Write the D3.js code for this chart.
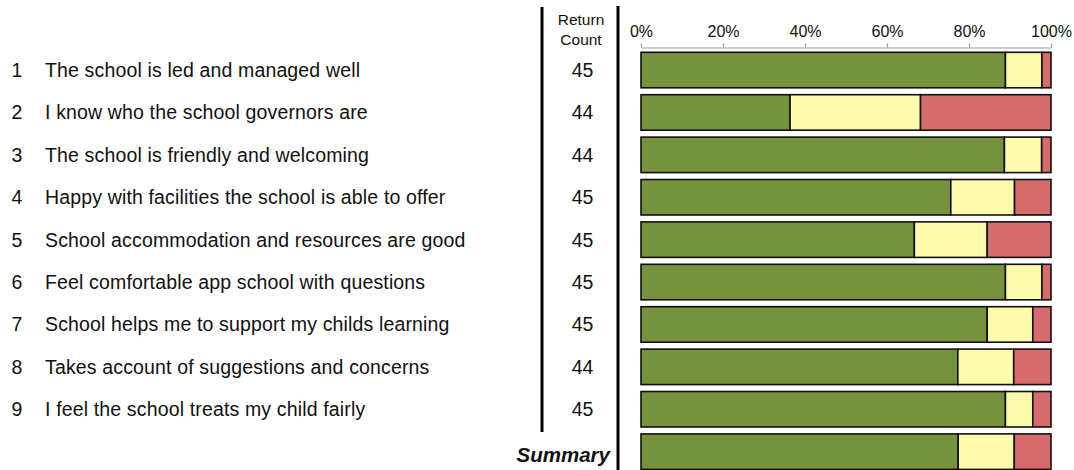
<!DOCTYPE html>
<html>
<head>
<meta charset="utf-8">
<script src="https://cdn.jsdelivr.net/npm/d3@7"></script>
<style>
  html, body { margin: 0; padding: 0; background: #fff; }
  svg { display: block; font-family: "Liberation Sans", Arial, sans-serif; }
</style>
</head>
<body>
<svg id="chart" width="1074" height="470"></svg>
<script>
const questions = [
  "The school is led and managed well",
  "I know who the school governors are",
  "The school is friendly and welcoming",
  "Happy with facilities the school is able to offer",
  "School accommodation and resources are good",
  "Feel comfortable app school with questions",
  "School helps me to support my childs learning",
  "Takes account of suggestions and concerns",
  "I feel the school treats my child fairly",
  "Summary"
];
const returnCounts = [45, 44, 44, 45, 45, 45, 45, 44, 45, null];
const agree    = [40, 16, 39, 34, 30, 40, 38, 34, 40, 311];
const neutral  = [4, 14, 4, 7, 8, 4, 5, 6, 3, 55];
const disagree = [1, 14, 1, 4, 7, 1, 2, 4, 2, 36];
const tickValues = [0, 0.2, 0.4, 0.6, 0.8, 1.0];
const seriesKeys = ["agree", "neutral", "disagree"];
const seriesColors = ["#76923C", "#FBFBAB", "#D76B6B"];

const rows = questions.map((q, i) => {
  const total = agree[i] + neutral[i] + disagree[i];
  return { q, i, count: returnCounts[i],
    agree: agree[i] / total, neutral: neutral[i] / total, disagree: disagree[i] / total };
});

const svg = d3.select("#chart");
const x = d3.scaleLinear().domain([0, 1]).range([641, 1051]);
const y = d3.scaleBand().domain(rows.map(d => d.i)).range([48.85, 472.85])
  .paddingInner(0.163).paddingOuter(0.0815);

// Axis on top
const axis = d3.axisTop(x).tickValues(tickValues).tickFormat(d3.format(".0%")).tickSize(4).tickSizeOuter(0);
const gAxis = svg.append("g").attr("transform", "translate(0,47.5)").call(axis);
gAxis.select(".domain").attr("stroke", "#999").attr("stroke-width", 1.2);
gAxis.selectAll(".tick line").attr("stroke", "#999").attr("stroke-width", 1.2);
gAxis.selectAll(".tick text").attr("font-size", 16).attr("fill", "#111")
  .attr("font-family", "Liberation Sans, Arial, sans-serif").attr("dy", "-4");

// Stacked bars
const stack = d3.stack().keys(seriesKeys);
const stacked = stack(rows);
svg.append("g").selectAll("g").data(stacked).join("g")
  .attr("fill", (d, k) => seriesColors[k])
  .selectAll("rect").data(d => d).join("rect")
  .attr("x", d => x(d[0]))
  .attr("width", d => x(d[1]) - x(d[0]))
  .attr("y", (d) => y(d.data.i))
  .attr("height", y.bandwidth())
  .attr("stroke", "#111")
  .attr("stroke-width", 1.6);

// Left labels
const gl = svg.append("g").attr("font-size", 19.5).attr("fill", "#111");
rows.filter(d => d.count !== null).forEach(d => {
  const cy = y(d.i) + y.bandwidth() / 2;
  gl.append("text").attr("x", 17).attr("y", cy).attr("dy", "0.36em").attr("text-anchor", "middle").text(d.i + 1);
  gl.append("text").attr("x", 45).attr("y", cy).attr("dy", "0.36em").attr("letter-spacing", 0.15).text(d.q);
  gl.append("text").attr("x", 582.5).attr("y", cy).attr("dy", "0.36em").attr("text-anchor", "middle").text(d.count);
});
const sum = rows[rows.length - 1];
svg.append("text").attr("x", 610).attr("y", y(sum.i) + y.bandwidth() / 2 + 3).attr("dy", "0.36em")
  .attr("text-anchor", "end").attr("font-size", 20.5).attr("font-weight", "bold").attr("font-style", "italic")
  .attr("fill", "#111").text(sum.q);

// Header
svg.append("text").attr("x", 581).attr("y", 25).attr("text-anchor", "middle").attr("font-size", 15.5).attr("fill", "#111").text("Return");
svg.append("text").attr("x", 581).attr("y", 45).attr("text-anchor", "middle").attr("font-size", 15.5).attr("fill", "#111").text("Count");

// Vertical rules
svg.append("line").attr("x1", 542).attr("x2", 542).attr("y1", 7).attr("y2", 432).attr("stroke", "#000").attr("stroke-width", 3);
svg.append("line").attr("x1", 618).attr("x2", 618).attr("y1", 6).attr("y2", 470).attr("stroke", "#000").attr("stroke-width", 3);
</script>
</body>
</html>
